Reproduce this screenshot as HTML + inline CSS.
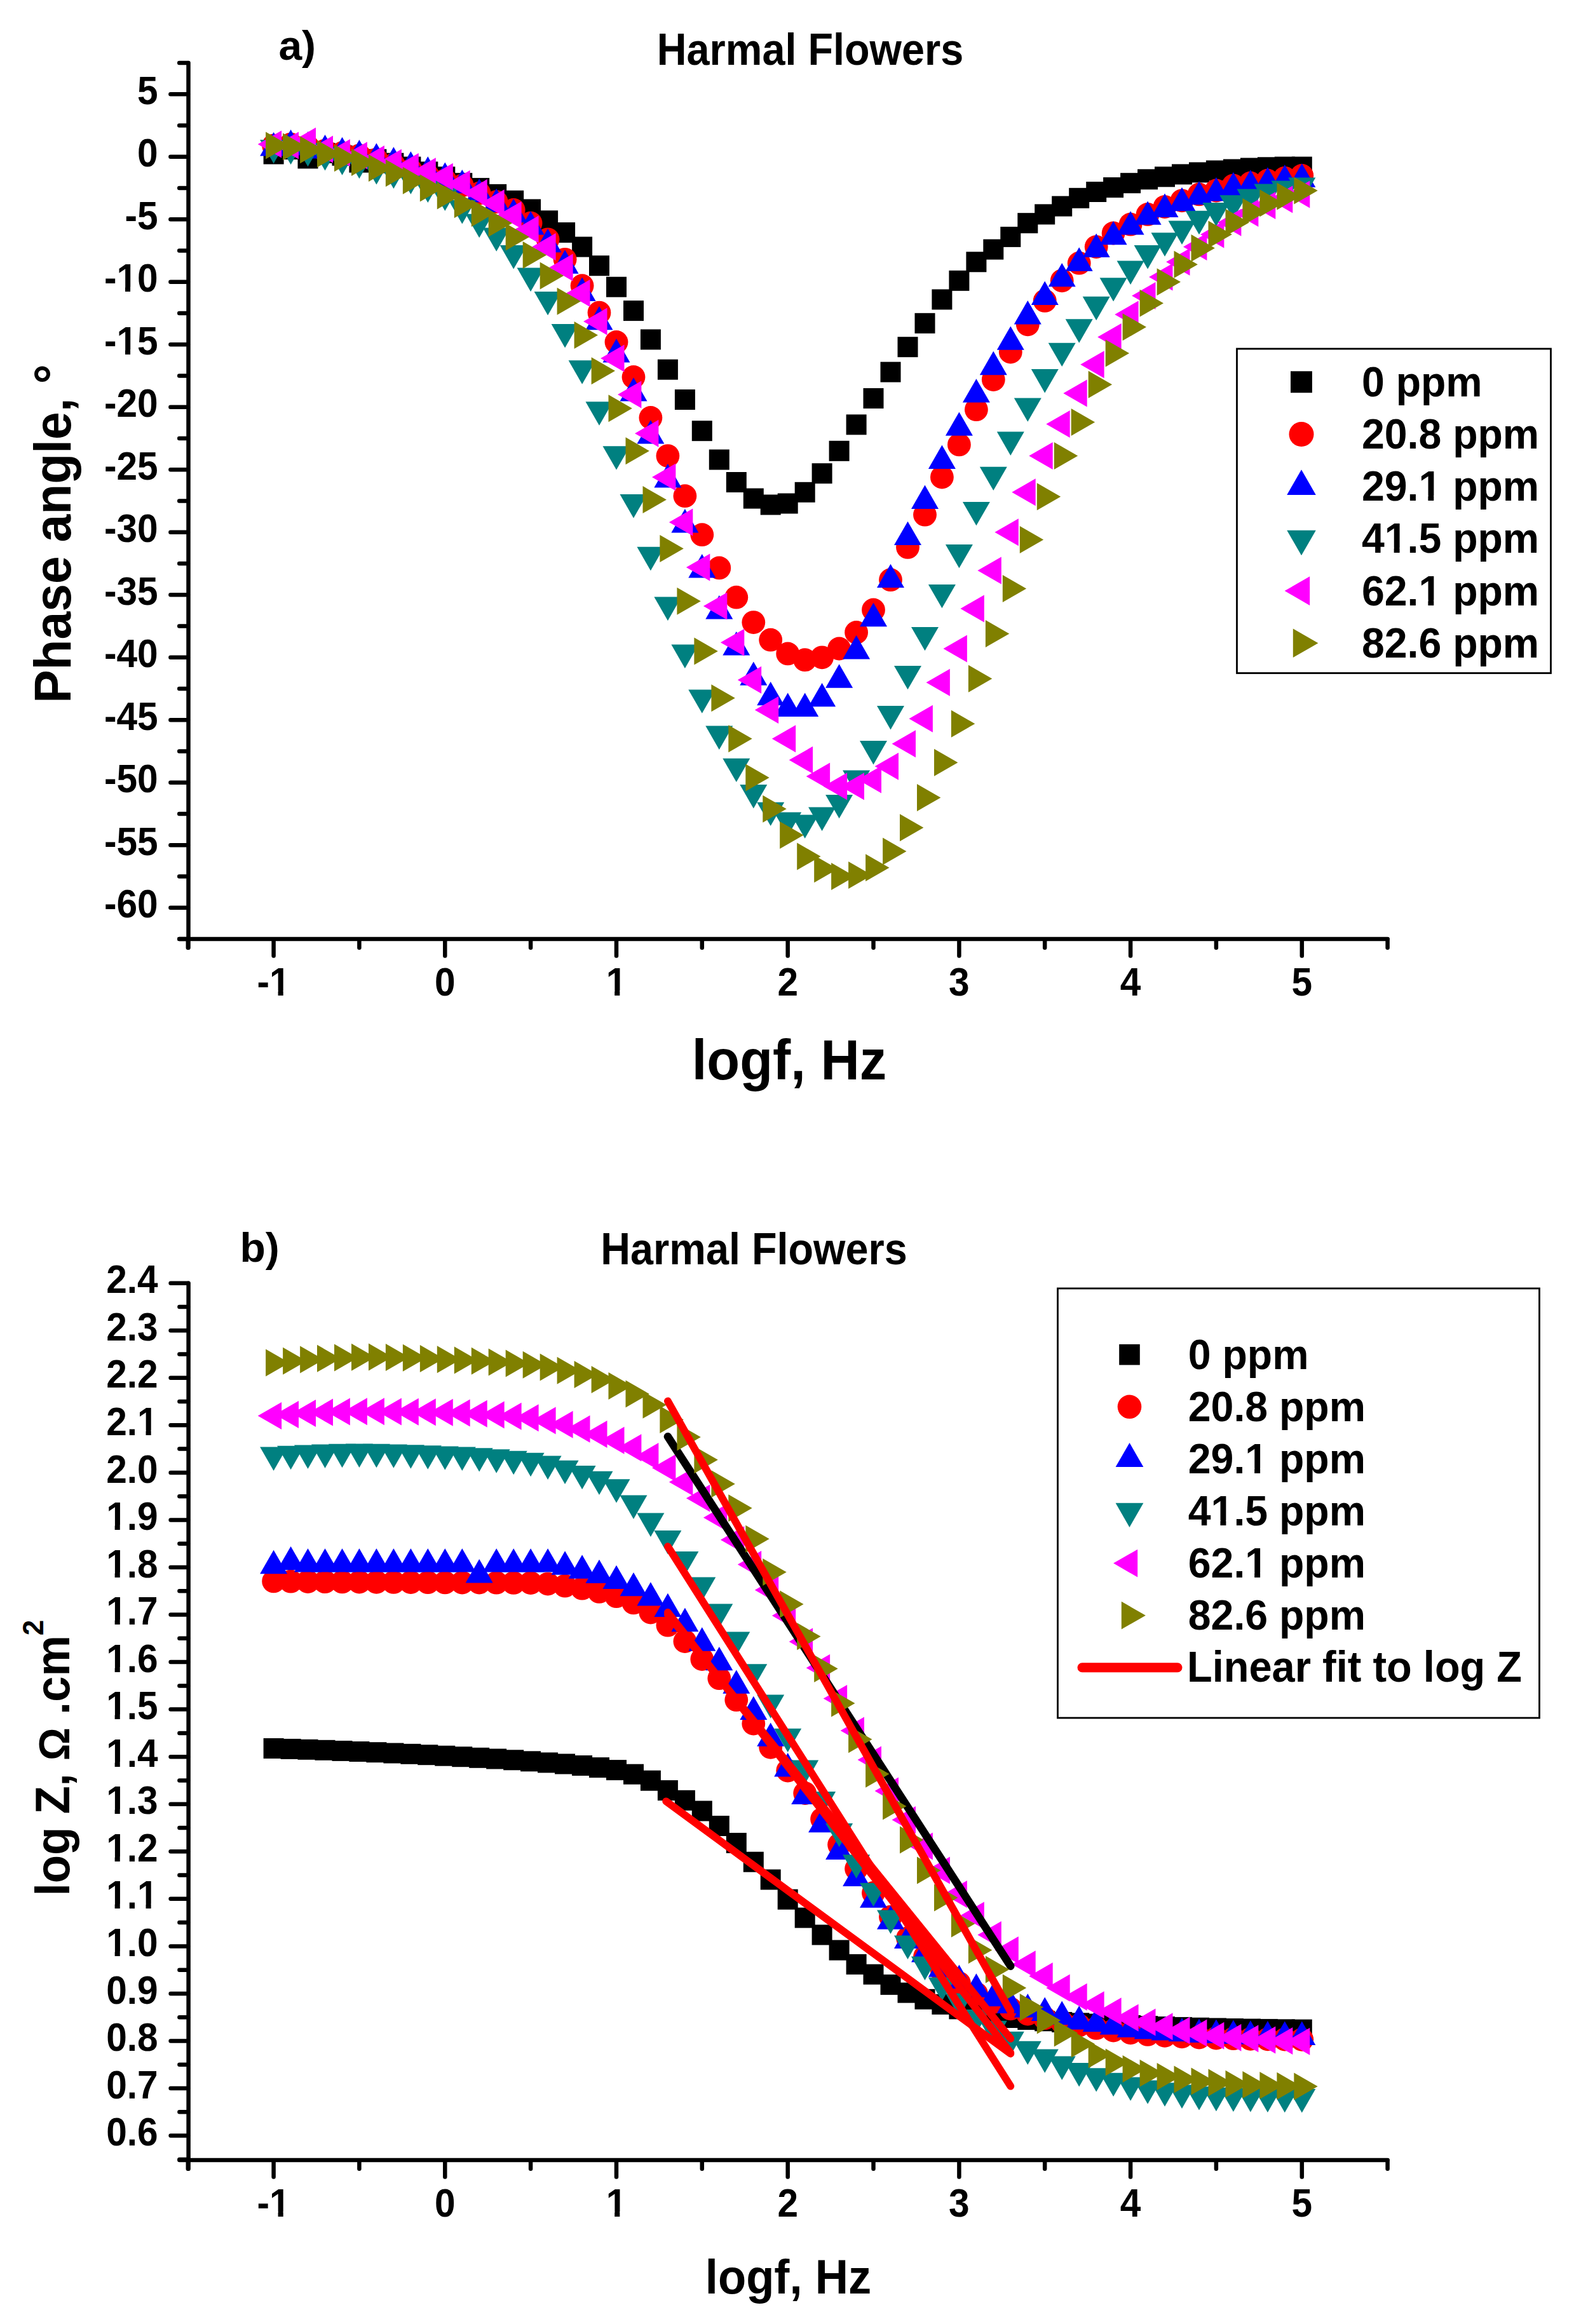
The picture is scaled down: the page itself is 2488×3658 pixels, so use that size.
<!DOCTYPE html>
<html lang="en"><head><meta charset="utf-8"><title>Harmal Flowers - Bode plots</title>
<style>html,body{margin:0;padding:0;background:#fff}svg{display:block}text{font-family:"Liberation Sans", sans-serif;font-weight:bold;fill:#000}</style></head><body>
<svg width="2488" height="3658" viewBox="0 0 2488 3658">
<rect width="2488" height="3658" fill="#fff"/>
<g id="chart-a">
<g stroke="#000" stroke-width="6.5" stroke-linecap="round" fill="none">
<path d="M296.5 99.1 V1491.8"/>
<path d="M282.2 1478 H2183.6"/>
<path d="M268.4 148.3 H295.9"/>
<path d="M268.4 246.8 H295.9"/>
<path d="M268.4 345.3 H295.9"/>
<path d="M268.4 443.8 H295.9"/>
<path d="M268.4 542.3 H295.9"/>
<path d="M268.4 640.8 H295.9"/>
<path d="M268.4 739.3 H295.9"/>
<path d="M268.4 837.8 H295.9"/>
<path d="M268.4 936.3 H295.9"/>
<path d="M268.4 1034.8 H295.9"/>
<path d="M268.4 1133.3 H295.9"/>
<path d="M268.4 1231.8 H295.9"/>
<path d="M268.4 1330.3 H295.9"/>
<path d="M268.4 1428.8 H295.9"/>
<path d="M282.2 99.1 H295.9"/>
<path d="M282.2 197.6 H295.9"/>
<path d="M282.2 296.1 H295.9"/>
<path d="M282.2 394.6 H295.9"/>
<path d="M282.2 493.1 H295.9"/>
<path d="M282.2 591.5 H295.9"/>
<path d="M282.2 690 H295.9"/>
<path d="M282.2 788.5 H295.9"/>
<path d="M282.2 887 H295.9"/>
<path d="M282.2 985.5 H295.9"/>
<path d="M282.2 1084 H295.9"/>
<path d="M282.2 1182.5 H295.9"/>
<path d="M282.2 1281 H295.9"/>
<path d="M282.2 1379.5 H295.9"/>
<path d="M282.2 1478 H295.9"/>
<path d="M430.6 1478.6 V1504.5"/>
<path d="M700.3 1478.6 V1504.5"/>
<path d="M970 1478.6 V1504.5"/>
<path d="M1239.7 1478.6 V1504.5"/>
<path d="M1509.4 1478.6 V1504.5"/>
<path d="M1779.1 1478.6 V1504.5"/>
<path d="M2048.8 1478.6 V1504.5"/>
<path d="M295.8 1478.6 V1491.8"/>
<path d="M565.4 1478.6 V1491.8"/>
<path d="M835.1 1478.6 V1491.8"/>
<path d="M1104.8 1478.6 V1491.8"/>
<path d="M1374.5 1478.6 V1491.8"/>
<path d="M1644.2 1478.6 V1491.8"/>
<path d="M1913.9 1478.6 V1491.8"/>
<path d="M2183.6 1478.6 V1491.8"/>
</g>
<text transform="translate(248.6 163.9) scale(1 1.080)" font-size="58.6" text-anchor="end">5</text>
<text transform="translate(248.6 262.4) scale(1 1.080)" font-size="58.6" text-anchor="end">0</text>
<text transform="translate(248.6 360.9) scale(1 1.080)" font-size="58.6" text-anchor="end">-5</text>
<text transform="translate(248.6 459.4) scale(1 1.080)" font-size="58.6" text-anchor="end">-10</text><g transform="translate(248.6 459.4) scale(1 1.080)" fill="#fff"><rect x="-62.82" y="-7.15" width="11.16" height="7.91"/><rect x="-43.51" y="-7.15" width="10.58" height="7.91"/></g>
<text transform="translate(248.6 557.9) scale(1 1.080)" font-size="58.6" text-anchor="end">-15</text><g transform="translate(248.6 557.9) scale(1 1.080)" fill="#fff"><rect x="-62.82" y="-7.15" width="11.16" height="7.91"/><rect x="-43.51" y="-7.15" width="10.58" height="7.91"/></g>
<text transform="translate(248.6 656.4) scale(1 1.080)" font-size="58.6" text-anchor="end">-20</text>
<text transform="translate(248.6 754.9) scale(1 1.080)" font-size="58.6" text-anchor="end">-25</text>
<text transform="translate(248.6 853.4) scale(1 1.080)" font-size="58.6" text-anchor="end">-30</text>
<text transform="translate(248.6 951.9) scale(1 1.080)" font-size="58.6" text-anchor="end">-35</text>
<text transform="translate(248.6 1050.4) scale(1 1.080)" font-size="58.6" text-anchor="end">-40</text>
<text transform="translate(248.6 1148.9) scale(1 1.080)" font-size="58.6" text-anchor="end">-45</text>
<text transform="translate(248.6 1247.4) scale(1 1.080)" font-size="58.6" text-anchor="end">-50</text>
<text transform="translate(248.6 1345.9) scale(1 1.080)" font-size="58.6" text-anchor="end">-55</text>
<text transform="translate(248.6 1444.4) scale(1 1.080)" font-size="58.6" text-anchor="end">-60</text>
<text transform="translate(430.6 1566.8) scale(1 1.080)" font-size="58.6" text-anchor="middle">-1</text><g transform="translate(430.6 1566.8) scale(1 1.080)" fill="#fff"><rect x="-4.19" y="-7.15" width="11.16" height="7.91"/><rect x="15.12" y="-7.15" width="10.58" height="7.91"/></g>
<text transform="translate(700.3 1566.8) scale(1 1.080)" font-size="58.6" text-anchor="middle">0</text>
<text transform="translate(970 1566.8) scale(1 1.080)" font-size="58.6" text-anchor="middle">1</text><g transform="translate(970 1566.8) scale(1 1.080)" fill="#fff"><rect x="-13.95" y="-7.15" width="11.16" height="7.91"/><rect x="5.36" y="-7.15" width="10.58" height="7.91"/></g>
<text transform="translate(1239.7 1566.8) scale(1 1.080)" font-size="58.6" text-anchor="middle">2</text>
<text transform="translate(1509.4 1566.8) scale(1 1.080)" font-size="58.6" text-anchor="middle">3</text>
<text transform="translate(1779.1 1566.8) scale(1 1.080)" font-size="58.6" text-anchor="middle">4</text>
<text transform="translate(2048.8 1566.8) scale(1 1.080)" font-size="58.6" text-anchor="middle">5</text>
<text transform="translate(438.4 93.8) scale(1 0.975)" font-size="66">a)</text>
<text transform="translate(1275 102) scale(1 1.077)" font-size="64.8" text-anchor="middle">Harmal Flowers</text>
<text transform="translate(111.3 840) rotate(-90) scale(1 1.035)" font-size="78.6" text-anchor="middle">Phase angle, °</text>
<text transform="translate(1242 1698.6) scale(1 1.050)" font-size="84.9" text-anchor="middle">logf, Hz</text>
<g fill="#000000">
<rect x="414.6" y="226.5" width="32" height="32"/>
<rect x="441.6" y="219" width="32" height="32"/>
<rect x="468.5" y="233.4" width="32" height="32"/>
<rect x="495.5" y="224.9" width="32" height="32"/>
<rect x="522.5" y="228.8" width="32" height="32"/>
<rect x="549.4" y="239.7" width="32" height="32"/>
<rect x="576.4" y="234.7" width="32" height="32"/>
<rect x="603.4" y="240.7" width="32" height="32"/>
<rect x="630.4" y="246.6" width="32" height="32"/>
<rect x="657.3" y="254.4" width="32" height="32"/>
<rect x="684.3" y="262.3" width="32" height="32"/>
<rect x="711.3" y="272.2" width="32" height="32"/>
<rect x="738.2" y="280.1" width="32" height="32"/>
<rect x="765.2" y="289.9" width="32" height="32"/>
<rect x="792.2" y="299.8" width="32" height="32"/>
<rect x="819.1" y="313.5" width="32" height="32"/>
<rect x="846.1" y="331.3" width="32" height="32"/>
<rect x="873.1" y="350" width="32" height="32"/>
<rect x="900.1" y="372.6" width="32" height="32"/>
<rect x="927" y="402.2" width="32" height="32"/>
<rect x="954" y="435.7" width="32" height="32"/>
<rect x="981" y="473.1" width="32" height="32"/>
<rect x="1007.9" y="518.4" width="32" height="32"/>
<rect x="1034.9" y="565.7" width="32" height="32"/>
<rect x="1061.9" y="613" width="32" height="32"/>
<rect x="1088.8" y="662.2" width="32" height="32"/>
<rect x="1115.8" y="707.5" width="32" height="32"/>
<rect x="1142.8" y="743" width="32" height="32"/>
<rect x="1169.8" y="768.6" width="32" height="32"/>
<rect x="1196.7" y="778.5" width="32" height="32"/>
<rect x="1223.7" y="776.5" width="32" height="32"/>
<rect x="1250.7" y="758.8" width="32" height="32"/>
<rect x="1277.6" y="729.2" width="32" height="32"/>
<rect x="1304.6" y="693.8" width="32" height="32"/>
<rect x="1331.6" y="652.4" width="32" height="32"/>
<rect x="1358.5" y="611" width="32" height="32"/>
<rect x="1385.5" y="569.6" width="32" height="32"/>
<rect x="1412.5" y="530.2" width="32" height="32"/>
<rect x="1439.5" y="492.8" width="32" height="32"/>
<rect x="1466.4" y="455.4" width="32" height="32"/>
<rect x="1493.4" y="425.8" width="32" height="32"/>
<rect x="1520.4" y="396.3" width="32" height="32"/>
<rect x="1547.3" y="376.6" width="32" height="32"/>
<rect x="1574.3" y="356.9" width="32" height="32"/>
<rect x="1601.3" y="335.2" width="32" height="32"/>
<rect x="1628.2" y="321.4" width="32" height="32"/>
<rect x="1655.2" y="308.6" width="32" height="32"/>
<rect x="1682.2" y="295.8" width="32" height="32"/>
<rect x="1709.2" y="286" width="32" height="32"/>
<rect x="1736.1" y="279.1" width="32" height="32"/>
<rect x="1763.1" y="272.2" width="32" height="32"/>
<rect x="1790.1" y="266.3" width="32" height="32"/>
<rect x="1817" y="262.3" width="32" height="32"/>
<rect x="1844" y="258.4" width="32" height="32"/>
<rect x="1871" y="255.4" width="32" height="32"/>
<rect x="1897.9" y="252.5" width="32" height="32"/>
<rect x="1924.9" y="250.5" width="32" height="32"/>
<rect x="1951.9" y="248.5" width="32" height="32"/>
<rect x="1978.9" y="247.3" width="32" height="32"/>
<rect x="2005.8" y="246.6" width="32" height="32"/>
<rect x="2032.8" y="246.6" width="32" height="32"/>
</g>
<g fill="#ff0000">
<circle cx="430.6" cy="229.1" r="18.4"/>
<circle cx="457.6" cy="227.1" r="18.4"/>
<circle cx="484.5" cy="230.9" r="18.4"/>
<circle cx="511.5" cy="237" r="18.4"/>
<circle cx="538.5" cy="240.7" r="18.4"/>
<circle cx="565.4" cy="244.8" r="18.4"/>
<circle cx="592.4" cy="251.1" r="18.4"/>
<circle cx="619.4" cy="259.2" r="18.4"/>
<circle cx="646.4" cy="267.9" r="18.4"/>
<circle cx="673.3" cy="276.4" r="18.4"/>
<circle cx="700.3" cy="283.8" r="18.4"/>
<circle cx="727.3" cy="292.1" r="18.4"/>
<circle cx="754.2" cy="304.2" r="18.4"/>
<circle cx="781.2" cy="317.7" r="18.4"/>
<circle cx="808.2" cy="330.5" r="18.4"/>
<circle cx="835.1" cy="351.2" r="18.4"/>
<circle cx="862.1" cy="376.8" r="18.4"/>
<circle cx="889.1" cy="408.3" r="18.4"/>
<circle cx="916.1" cy="449.7" r="18.4"/>
<circle cx="943" cy="492.1" r="18.4"/>
<circle cx="970" cy="538.4" r="18.4"/>
<circle cx="997" cy="593.5" r="18.4"/>
<circle cx="1023.9" cy="657.5" r="18.4"/>
<circle cx="1050.9" cy="717.6" r="18.4"/>
<circle cx="1077.9" cy="780.7" r="18.4"/>
<circle cx="1104.8" cy="841.7" r="18.4"/>
<circle cx="1131.8" cy="893.9" r="18.4"/>
<circle cx="1158.8" cy="940.2" r="18.4"/>
<circle cx="1185.8" cy="979.6" r="18.4"/>
<circle cx="1212.7" cy="1007.2" r="18.4"/>
<circle cx="1239.7" cy="1028.9" r="18.4"/>
<circle cx="1266.7" cy="1038.7" r="18.4"/>
<circle cx="1293.6" cy="1034.8" r="18.4"/>
<circle cx="1320.6" cy="1021" r="18.4"/>
<circle cx="1347.6" cy="995.4" r="18.4"/>
<circle cx="1374.5" cy="959.9" r="18.4"/>
<circle cx="1401.5" cy="912.7" r="18.4"/>
<circle cx="1428.5" cy="861.4" r="18.4"/>
<circle cx="1455.5" cy="810.2" r="18.4"/>
<circle cx="1482.4" cy="751.1" r="18.4"/>
<circle cx="1509.4" cy="699.9" r="18.4"/>
<circle cx="1536.4" cy="644.7" r="18.4"/>
<circle cx="1563.3" cy="597.5" r="18.4"/>
<circle cx="1590.3" cy="554.1" r="18.4"/>
<circle cx="1617.3" cy="510.8" r="18.4"/>
<circle cx="1644.2" cy="473.4" r="18.4"/>
<circle cx="1671.2" cy="441.8" r="18.4"/>
<circle cx="1698.2" cy="414.2" r="18.4"/>
<circle cx="1725.2" cy="388.6" r="18.4"/>
<circle cx="1752.1" cy="367" r="18.4"/>
<circle cx="1779.1" cy="353.2" r="18.4"/>
<circle cx="1806.1" cy="337.4" r="18.4"/>
<circle cx="1833" cy="325.6" r="18.4"/>
<circle cx="1860" cy="315.8" r="18.4"/>
<circle cx="1887" cy="305.9" r="18.4"/>
<circle cx="1913.9" cy="300" r="18.4"/>
<circle cx="1940.9" cy="292.1" r="18.4"/>
<circle cx="1967.9" cy="288.2" r="18.4"/>
<circle cx="1994.9" cy="284.2" r="18.4"/>
<circle cx="2021.8" cy="280.3" r="18.4"/>
<circle cx="2048.8" cy="276.4" r="18.4"/>
</g>
<g fill="#0000ff">
<polygon points="430.6,208.1 409.1,245.5 452.1,245.5"/>
<polygon points="457.6,204.1 436.1,241.5 479.1,241.5"/>
<polygon points="484.5,207.1 463,244.5 506,244.5"/>
<polygon points="511.5,212 490,249.4 533,249.4"/>
<polygon points="538.5,215.7 517,253.1 560,253.1"/>
<polygon points="565.4,219.9 543.9,257.3 586.9,257.3"/>
<polygon points="592.4,225.2 570.9,262.6 613.9,262.6"/>
<polygon points="619.4,231.3 597.9,268.7 640.9,268.7"/>
<polygon points="646.4,238.3 624.9,275.7 667.9,275.7"/>
<polygon points="673.3,246.3 651.8,283.7 694.8,283.7"/>
<polygon points="700.3,255.4 678.8,292.8 721.8,292.8"/>
<polygon points="727.3,266.9 705.8,304.3 748.8,304.3"/>
<polygon points="754.2,281.2 732.7,318.6 775.7,318.6"/>
<polygon points="781.2,296.7 759.7,334.1 802.7,334.1"/>
<polygon points="808.2,312.8 786.7,350.2 829.7,350.2"/>
<polygon points="835.1,332.2 813.6,369.6 856.6,369.6"/>
<polygon points="862.1,359.8 840.6,397.2 883.6,397.2"/>
<polygon points="889.1,393.3 867.6,430.7 910.6,430.7"/>
<polygon points="916.1,436.6 894.6,474 937.6,474"/>
<polygon points="943,481.9 921.5,519.3 964.5,519.3"/>
<polygon points="970,533.1 948.5,570.5 991.5,570.5"/>
<polygon points="997,594.2 975.5,631.6 1018.5,631.6"/>
<polygon points="1023.9,661.2 1002.4,698.6 1045.4,698.6"/>
<polygon points="1050.9,730.1 1029.4,767.5 1072.4,767.5"/>
<polygon points="1077.9,801 1056.4,838.4 1099.4,838.4"/>
<polygon points="1104.8,872 1083.3,909.4 1126.3,909.4"/>
<polygon points="1131.8,937 1110.3,974.4 1153.3,974.4"/>
<polygon points="1158.8,994.1 1137.3,1031.5 1180.3,1031.5"/>
<polygon points="1185.8,1041.4 1164.3,1078.8 1207.3,1078.8"/>
<polygon points="1212.7,1072.9 1191.2,1110.3 1234.2,1110.3"/>
<polygon points="1239.7,1090.6 1218.2,1128 1261.2,1128"/>
<polygon points="1266.7,1090.6 1245.2,1128 1288.2,1128"/>
<polygon points="1293.6,1074.9 1272.1,1112.3 1315.1,1112.3"/>
<polygon points="1320.6,1045.3 1299.1,1082.7 1342.1,1082.7"/>
<polygon points="1347.6,1000 1326.1,1037.4 1369.1,1037.4"/>
<polygon points="1374.5,948.8 1353,986.2 1396,986.2"/>
<polygon points="1401.5,887.7 1380,925.1 1423,925.1"/>
<polygon points="1428.5,820.7 1407,858.1 1450,858.1"/>
<polygon points="1455.5,763.6 1434,801 1477,801"/>
<polygon points="1482.4,700.6 1460.9,738 1503.9,738"/>
<polygon points="1509.4,648.4 1487.9,685.8 1530.9,685.8"/>
<polygon points="1536.4,596.2 1514.9,633.6 1557.9,633.6"/>
<polygon points="1563.3,552.8 1541.8,590.2 1584.8,590.2"/>
<polygon points="1590.3,513.4 1568.8,550.8 1611.8,550.8"/>
<polygon points="1617.3,473 1595.8,510.4 1638.8,510.4"/>
<polygon points="1644.2,442.5 1622.8,479.9 1665.8,479.9"/>
<polygon points="1671.2,413.9 1649.7,451.3 1692.7,451.3"/>
<polygon points="1698.2,389.3 1676.7,426.7 1719.7,426.7"/>
<polygon points="1725.2,367.6 1703.7,405 1746.7,405"/>
<polygon points="1752.1,347.9 1730.6,385.3 1773.6,385.3"/>
<polygon points="1779.1,332.2 1757.6,369.6 1800.6,369.6"/>
<polygon points="1806.1,316.4 1784.6,353.8 1827.6,353.8"/>
<polygon points="1833,304.6 1811.5,342 1854.5,342"/>
<polygon points="1860,294.8 1838.5,332.2 1881.5,332.2"/>
<polygon points="1887,284.9 1865.5,322.3 1908.5,322.3"/>
<polygon points="1913.9,279 1892.4,316.4 1935.4,316.4"/>
<polygon points="1940.9,271.1 1919.4,308.5 1962.4,308.5"/>
<polygon points="1967.9,267.2 1946.4,304.6 1989.4,304.6"/>
<polygon points="1994.9,263.2 1973.4,300.6 2016.4,300.6"/>
<polygon points="2021.8,259.3 2000.3,296.7 2043.3,296.7"/>
<polygon points="2048.8,257.3 2027.3,294.7 2070.3,294.7"/>
</g>
<g fill="#008080">
<polygon points="430.6,257.4 409.1,220 452.1,220"/>
<polygon points="457.6,259.1 436.1,221.7 479.1,221.7"/>
<polygon points="484.5,262.3 463,224.9 506,224.9"/>
<polygon points="511.5,268.6 490,231.2 533,231.2"/>
<polygon points="538.5,275.7 517,238.3 560,238.3"/>
<polygon points="565.4,281.2 543.9,243.8 586.9,243.8"/>
<polygon points="592.4,290.6 570.9,253.2 613.9,253.2"/>
<polygon points="619.4,296.9 597.9,259.5 640.9,259.5"/>
<polygon points="646.4,305.8 624.9,268.4 667.9,268.4"/>
<polygon points="673.3,319 651.8,281.6 694.8,281.6"/>
<polygon points="700.3,332 678.8,294.6 721.8,294.6"/>
<polygon points="727.3,352.5 705.8,315.1 748.8,315.1"/>
<polygon points="754.2,374.2 732.7,336.8 775.7,336.8"/>
<polygon points="781.2,395.8 759.7,358.4 802.7,358.4"/>
<polygon points="808.2,423.4 786.7,386 829.7,386"/>
<polygon points="835.1,458.9 813.6,421.5 856.6,421.5"/>
<polygon points="862.1,496.3 840.6,458.9 883.6,458.9"/>
<polygon points="889.1,547.5 867.6,510.1 910.6,510.1"/>
<polygon points="916.1,604.7 894.6,567.3 937.6,567.3"/>
<polygon points="943,669.7 921.5,632.3 964.5,632.3"/>
<polygon points="970,739.6 948.5,702.2 991.5,702.2"/>
<polygon points="997,815.5 975.5,778.1 1018.5,778.1"/>
<polygon points="1023.9,898.2 1002.4,860.8 1045.4,860.8"/>
<polygon points="1050.9,977 1029.4,939.6 1072.4,939.6"/>
<polygon points="1077.9,1051.9 1056.4,1014.5 1099.4,1014.5"/>
<polygon points="1104.8,1122.8 1083.3,1085.4 1126.3,1085.4"/>
<polygon points="1131.8,1179.9 1110.3,1142.5 1153.3,1142.5"/>
<polygon points="1158.8,1231.1 1137.3,1193.7 1180.3,1193.7"/>
<polygon points="1185.8,1272.5 1164.3,1235.1 1207.3,1235.1"/>
<polygon points="1212.7,1300.1 1191.2,1262.7 1234.2,1262.7"/>
<polygon points="1239.7,1315.8 1218.2,1278.4 1261.2,1278.4"/>
<polygon points="1266.7,1319.8 1245.2,1282.4 1288.2,1282.4"/>
<polygon points="1293.6,1308 1272.1,1270.6 1315.1,1270.6"/>
<polygon points="1320.6,1288.3 1299.1,1250.9 1342.1,1250.9"/>
<polygon points="1347.6,1249.8 1326.1,1212.4 1369.1,1212.4"/>
<polygon points="1374.5,1203.5 1353,1166.1 1396,1166.1"/>
<polygon points="1401.5,1148.4 1380,1111 1423,1111"/>
<polygon points="1428.5,1085.3 1407,1047.9 1450,1047.9"/>
<polygon points="1455.5,1024.3 1434,986.9 1477,986.9"/>
<polygon points="1482.4,957.3 1460.9,919.9 1503.9,919.9"/>
<polygon points="1509.4,894.3 1487.9,856.9 1530.9,856.9"/>
<polygon points="1536.4,827.3 1514.9,789.9 1557.9,789.9"/>
<polygon points="1563.3,772.1 1541.8,734.7 1584.8,734.7"/>
<polygon points="1590.3,717 1568.8,679.6 1611.8,679.6"/>
<polygon points="1617.3,663.8 1595.8,626.4 1638.8,626.4"/>
<polygon points="1644.2,618.5 1622.8,581.1 1665.8,581.1"/>
<polygon points="1671.2,577.1 1649.7,539.7 1692.7,539.7"/>
<polygon points="1698.2,539.7 1676.7,502.3 1719.7,502.3"/>
<polygon points="1725.2,504.2 1703.7,466.8 1746.7,466.8"/>
<polygon points="1752.1,474.6 1730.6,437.2 1773.6,437.2"/>
<polygon points="1779.1,448 1757.6,410.6 1800.6,410.6"/>
<polygon points="1806.1,423.4 1784.6,386 1827.6,386"/>
<polygon points="1833,403.7 1811.5,366.3 1854.5,366.3"/>
<polygon points="1860,385 1838.5,347.6 1881.5,347.6"/>
<polygon points="1887,369.2 1865.5,331.8 1908.5,331.8"/>
<polygon points="1913.9,356.4 1892.4,319 1935.4,319"/>
<polygon points="1940.9,344.6 1919.4,307.2 1962.4,307.2"/>
<polygon points="1967.9,334.8 1946.4,297.4 1989.4,297.4"/>
<polygon points="1994.9,326.9 1973.4,289.5 2016.4,289.5"/>
<polygon points="2021.8,322 2000.3,284.6 2043.3,284.6"/>
<polygon points="2048.8,317 2027.3,279.6 2070.3,279.6"/>
</g>
<g fill="#ff00ff">
<polygon points="405.7,227.1 443.1,205.6 443.1,248.6"/>
<polygon points="432.6,229.1 470,207.6 470,250.6"/>
<polygon points="459.6,222.2 497,200.7 497,243.7"/>
<polygon points="486.6,235 524,213.5 524,256.5"/>
<polygon points="513.5,240.4 550.9,218.9 550.9,261.9"/>
<polygon points="540.5,244.8 577.9,223.3 577.9,266.3"/>
<polygon points="567.5,250.4 604.9,228.9 604.9,271.9"/>
<polygon points="594.5,256.2 631.9,234.7 631.9,277.7"/>
<polygon points="621.4,262.5 658.8,241 658.8,284"/>
<polygon points="648.4,269.8 685.8,248.3 685.8,291.3"/>
<polygon points="675.4,278.3 712.8,256.8 712.8,299.8"/>
<polygon points="702.3,289.4 739.7,267.9 739.7,310.9"/>
<polygon points="729.3,303.6 766.7,282.1 766.7,325.1"/>
<polygon points="756.3,319.7 793.7,298.2 793.7,341.2"/>
<polygon points="783.2,338.6 820.6,317.1 820.6,360.1"/>
<polygon points="810.2,361.1 847.6,339.6 847.6,382.6"/>
<polygon points="837.2,388.6 874.6,367.1 874.6,410.1"/>
<polygon points="864.2,421.1 901.6,399.6 901.6,442.6"/>
<polygon points="891.1,461.5 928.5,440 928.5,483"/>
<polygon points="918.1,505.9 955.5,484.4 955.5,527.4"/>
<polygon points="945.1,564 982.5,542.5 982.5,585.5"/>
<polygon points="972,621.1 1009.4,599.6 1009.4,642.6"/>
<polygon points="999,682.2 1036.4,660.7 1036.4,703.7"/>
<polygon points="1026,751.1 1063.4,729.6 1063.4,772.6"/>
<polygon points="1052.9,822 1090.3,800.5 1090.3,843.5"/>
<polygon points="1079.9,893 1117.3,871.5 1117.3,914.5"/>
<polygon points="1106.9,954 1144.3,932.5 1144.3,975.5"/>
<polygon points="1133.9,1011.2 1171.3,989.7 1171.3,1032.7"/>
<polygon points="1160.8,1070.3 1198.2,1048.8 1198.2,1091.8"/>
<polygon points="1187.8,1117.5 1225.2,1096 1225.2,1139"/>
<polygon points="1214.8,1162.8 1252.2,1141.3 1252.2,1184.3"/>
<polygon points="1241.7,1196.3 1279.1,1174.8 1279.1,1217.8"/>
<polygon points="1268.7,1222 1306.1,1200.5 1306.1,1243.5"/>
<polygon points="1295.7,1237.7 1333.1,1216.2 1333.1,1259.2"/>
<polygon points="1322.6,1237.7 1360,1216.2 1360,1259.2"/>
<polygon points="1349.6,1226.9 1387,1205.4 1387,1248.4"/>
<polygon points="1376.6,1206.2 1414,1184.7 1414,1227.7"/>
<polygon points="1403.6,1170.7 1441,1149.2 1441,1192.2"/>
<polygon points="1430.5,1131.3 1467.9,1109.8 1467.9,1152.8"/>
<polygon points="1457.5,1074.2 1494.9,1052.7 1494.9,1095.7"/>
<polygon points="1484.5,1021 1521.9,999.5 1521.9,1042.5"/>
<polygon points="1511.4,958 1548.8,936.5 1548.8,979.5"/>
<polygon points="1538.4,897.9 1575.8,876.4 1575.8,919.4"/>
<polygon points="1565.4,837.8 1602.8,816.3 1602.8,859.3"/>
<polygon points="1592.3,774.8 1629.7,753.3 1629.7,796.3"/>
<polygon points="1619.3,717.6 1656.7,696.1 1656.7,739.1"/>
<polygon points="1646.3,667.4 1683.7,645.9 1683.7,688.9"/>
<polygon points="1673.3,619.1 1710.7,597.6 1710.7,640.6"/>
<polygon points="1700.2,573.8 1737.6,552.3 1737.6,595.3"/>
<polygon points="1727.2,530.5 1764.6,509 1764.6,552"/>
<polygon points="1754.2,495 1791.6,473.5 1791.6,516.5"/>
<polygon points="1781.1,465.5 1818.5,444 1818.5,487"/>
<polygon points="1808.1,435.9 1845.5,414.4 1845.5,457.4"/>
<polygon points="1835.1,412.3 1872.5,390.8 1872.5,433.8"/>
<polygon points="1862,388.6 1899.4,367.1 1899.4,410.1"/>
<polygon points="1889,368.9 1926.4,347.4 1926.4,390.4"/>
<polygon points="1916,350.2 1953.4,328.7 1953.4,371.7"/>
<polygon points="1943,335.4 1980.4,313.9 1980.4,356.9"/>
<polygon points="1969.9,323.6 2007.3,302.1 2007.3,345.1"/>
<polygon points="1996.9,313.8 2034.3,292.3 2034.3,335.3"/>
<polygon points="2023.9,305.9 2061.3,284.4 2061.3,327.4"/>
</g>
<g fill="#808000">
<polygon points="455.5,229.1 418.1,207.6 418.1,250.6"/>
<polygon points="482.5,231 445.1,209.5 445.1,252.5"/>
<polygon points="509.5,235.8 472.1,214.3 472.1,257.3"/>
<polygon points="536.4,242.1 499,220.6 499,263.6"/>
<polygon points="563.4,248.8 526,227.3 526,270.3"/>
<polygon points="590.4,255.5 553,234 553,277"/>
<polygon points="617.4,264.5 580,243 580,286"/>
<polygon points="644.3,272.4 606.9,250.9 606.9,293.9"/>
<polygon points="671.3,284.2 633.9,262.7 633.9,305.7"/>
<polygon points="698.3,296.1 660.9,274.6 660.9,317.6"/>
<polygon points="725.2,307.9 687.8,286.4 687.8,329.4"/>
<polygon points="752.2,321.7 714.8,300.2 714.8,343.2"/>
<polygon points="779.2,335.4 741.8,313.9 741.8,356.9"/>
<polygon points="806.1,351.2 768.7,329.7 768.7,372.7"/>
<polygon points="833.1,372.9 795.7,351.4 795.7,394.4"/>
<polygon points="860.1,401.4 822.7,379.9 822.7,422.9"/>
<polygon points="887.1,434 849.7,412.5 849.7,455.5"/>
<polygon points="914,474.3 876.6,452.8 876.6,495.8"/>
<polygon points="941,527.5 903.6,506 903.6,549"/>
<polygon points="968,583.7 930.6,562.2 930.6,605.2"/>
<polygon points="994.9,642.8 957.5,621.3 957.5,664.3"/>
<polygon points="1021.9,709.8 984.5,688.2 984.5,731.2"/>
<polygon points="1048.9,786.6 1011.5,765.1 1011.5,808.1"/>
<polygon points="1075.8,863.4 1038.4,841.9 1038.4,884.9"/>
<polygon points="1102.8,946.2 1065.4,924.7 1065.4,967.7"/>
<polygon points="1129.8,1025 1092.4,1003.5 1092.4,1046.5"/>
<polygon points="1156.8,1098.8 1119.4,1077.3 1119.4,1120.3"/>
<polygon points="1183.7,1162.8 1146.3,1141.3 1146.3,1184.3"/>
<polygon points="1210.7,1223.9 1173.3,1202.4 1173.3,1245.4"/>
<polygon points="1237.7,1273.2 1200.3,1251.7 1200.3,1294.7"/>
<polygon points="1264.6,1314.5 1227.2,1293 1227.2,1336"/>
<polygon points="1291.6,1348 1254.2,1326.5 1254.2,1369.5"/>
<polygon points="1318.6,1367.7 1281.2,1346.2 1281.2,1389.2"/>
<polygon points="1345.5,1379.5 1308.1,1358 1308.1,1401"/>
<polygon points="1372.5,1377.6 1335.1,1356.1 1335.1,1399.1"/>
<polygon points="1399.5,1365.8 1362.1,1344.3 1362.1,1387.3"/>
<polygon points="1426.5,1340.1 1389.1,1318.6 1389.1,1361.6"/>
<polygon points="1453.4,1302.7 1416,1281.2 1416,1324.2"/>
<polygon points="1480.4,1255.4 1443,1233.9 1443,1276.9"/>
<polygon points="1507.4,1200.3 1470,1178.8 1470,1221.8"/>
<polygon points="1534.3,1139.2 1496.9,1117.7 1496.9,1160.7"/>
<polygon points="1561.3,1068.3 1523.9,1046.8 1523.9,1089.8"/>
<polygon points="1588.3,997.4 1550.9,975.9 1550.9,1018.9"/>
<polygon points="1615.2,926.5 1577.8,905 1577.8,948"/>
<polygon points="1642.2,849.6 1604.8,828.1 1604.8,871.1"/>
<polygon points="1669.2,781.7 1631.8,760.2 1631.8,803.2"/>
<polygon points="1696.2,717.6 1658.8,696.1 1658.8,739.1"/>
<polygon points="1723.1,664.4 1685.7,642.9 1685.7,685.9"/>
<polygon points="1750.1,605.3 1712.7,583.8 1712.7,626.8"/>
<polygon points="1777.1,556.1 1739.7,534.6 1739.7,577.6"/>
<polygon points="1804,514.7 1766.6,493.2 1766.6,536.2"/>
<polygon points="1831,477.3 1793.6,455.8 1793.6,498.8"/>
<polygon points="1858,443.8 1820.6,422.3 1820.6,465.3"/>
<polygon points="1884.9,416.2 1847.5,394.7 1847.5,437.7"/>
<polygon points="1911.9,390.6 1874.5,369.1 1874.5,412.1"/>
<polygon points="1938.9,368.9 1901.5,347.4 1901.5,390.4"/>
<polygon points="1965.9,350.2 1928.5,328.7 1928.5,371.7"/>
<polygon points="1992.8,333.5 1955.4,312 1955.4,355"/>
<polygon points="2019.8,319.7 1982.4,298.2 1982.4,341.2"/>
<polygon points="2046.8,308.9 2009.4,287.4 2009.4,330.4"/>
<polygon points="2073.7,300 2036.3,278.5 2036.3,321.5"/>
</g>
<rect x="1946.5" y="549" width="494" height="510.5" fill="#fff" stroke="#000" stroke-width="2.8"/>
<g fill="#000000"><rect x="2031" y="584.3" width="33.9" height="33.9"/></g>
<text transform="translate(2143 623.8) scale(1 1.040)" font-size="64.4">0 ppm</text>
<g fill="#ff0000"><circle cx="2048" cy="683.5" r="19.5"/></g>
<text transform="translate(2143 706) scale(1 1.040)" font-size="64.4">20.8 ppm</text>
<g fill="#0000ff"><polygon points="2048,739.3 2025.2,778.9 2070.8,778.9"/></g>
<text transform="translate(2143 788.2) scale(1 1.040)" font-size="64.4">29.1 ppm</text><g transform="translate(2143 788.2) scale(1 1.040)" fill="#fff"><rect x="92.09" y="-7.86" width="12.27" height="8.69"/><rect x="113.31" y="-7.86" width="11.62" height="8.69"/></g>
<g fill="#008080"><polygon points="2048,874.3 2025.2,834.7 2070.8,834.7"/></g>
<text transform="translate(2143 870.4) scale(1 1.040)" font-size="64.4">41.5 ppm</text><g transform="translate(2143 870.4) scale(1 1.040)" fill="#fff"><rect x="38.38" y="-7.86" width="12.27" height="8.69"/><rect x="59.60" y="-7.86" width="11.62" height="8.69"/></g>
<g fill="#ff00ff"><polygon points="2021.6,930.1 2061.2,907.3 2061.2,952.9"/></g>
<text transform="translate(2143 952.6) scale(1 1.040)" font-size="64.4">62.1 ppm</text><g transform="translate(2143 952.6) scale(1 1.040)" fill="#fff"><rect x="92.09" y="-7.86" width="12.27" height="8.69"/><rect x="113.31" y="-7.86" width="11.62" height="8.69"/></g>
<g fill="#808000"><polygon points="2074.4,1012.3 2034.8,989.5 2034.8,1035.1"/></g>
<text transform="translate(2143 1034.8) scale(1 1.040)" font-size="64.4">82.6 ppm</text>
</g>
<g id="chart-b">
<g stroke="#000" stroke-width="6.5" stroke-linecap="round" fill="none">
<path d="M296.6 2019.7 V3413.8"/>
<path d="M282.4 3400 H2183.6"/>
<path d="M268.6 3361.6 H296"/>
<path d="M268.6 3287 H296"/>
<path d="M268.6 3212.5 H296"/>
<path d="M268.6 3137.9 H296"/>
<path d="M268.6 3063.4 H296"/>
<path d="M268.6 2988.8 H296"/>
<path d="M268.6 2914.3 H296"/>
<path d="M268.6 2839.8 H296"/>
<path d="M268.6 2765.2 H296"/>
<path d="M268.6 2690.6 H296"/>
<path d="M268.6 2616.1 H296"/>
<path d="M268.6 2541.5 H296"/>
<path d="M268.6 2467 H296"/>
<path d="M268.6 2392.4 H296"/>
<path d="M268.6 2317.9 H296"/>
<path d="M268.6 2243.3 H296"/>
<path d="M268.6 2168.8 H296"/>
<path d="M268.6 2094.2 H296"/>
<path d="M268.6 2019.7 H296"/>
<path d="M282.4 3398.9 H296"/>
<path d="M282.4 3324.3 H296"/>
<path d="M282.4 3249.8 H296"/>
<path d="M282.4 3175.2 H296"/>
<path d="M282.4 3100.7 H296"/>
<path d="M282.4 3026.1 H296"/>
<path d="M282.4 2951.6 H296"/>
<path d="M282.4 2877 H296"/>
<path d="M282.4 2802.5 H296"/>
<path d="M282.4 2727.9 H296"/>
<path d="M282.4 2653.4 H296"/>
<path d="M282.4 2578.8 H296"/>
<path d="M282.4 2504.3 H296"/>
<path d="M282.4 2429.7 H296"/>
<path d="M282.4 2355.2 H296"/>
<path d="M282.4 2280.6 H296"/>
<path d="M282.4 2206.1 H296"/>
<path d="M282.4 2131.5 H296"/>
<path d="M282.4 2057 H296"/>
<path d="M430.6 3400.6 V3426.6"/>
<path d="M700.3 3400.6 V3426.6"/>
<path d="M970 3400.6 V3426.6"/>
<path d="M1239.7 3400.6 V3426.6"/>
<path d="M1509.4 3400.6 V3426.6"/>
<path d="M1779.1 3400.6 V3426.6"/>
<path d="M2048.8 3400.6 V3426.6"/>
<path d="M295.8 3400.6 V3413.8"/>
<path d="M565.4 3400.6 V3413.8"/>
<path d="M835.1 3400.6 V3413.8"/>
<path d="M1104.8 3400.6 V3413.8"/>
<path d="M1374.5 3400.6 V3413.8"/>
<path d="M1644.2 3400.6 V3413.8"/>
<path d="M1913.9 3400.6 V3413.8"/>
<path d="M2183.6 3400.6 V3413.8"/>
</g>
<text transform="translate(248.6 3377.2) scale(1 1.080)" font-size="58.6" text-anchor="end">0.6</text>
<text transform="translate(248.6 3302.6) scale(1 1.080)" font-size="58.6" text-anchor="end">0.7</text>
<text transform="translate(248.6 3228.1) scale(1 1.080)" font-size="58.6" text-anchor="end">0.8</text>
<text transform="translate(248.6 3153.5) scale(1 1.080)" font-size="58.6" text-anchor="end">0.9</text>
<text transform="translate(248.6 3079) scale(1 1.080)" font-size="58.6" text-anchor="end">1.0</text><g transform="translate(248.6 3079) scale(1 1.080)" fill="#fff"><rect x="-79.11" y="-7.15" width="11.16" height="7.91"/><rect x="-59.80" y="-7.15" width="10.58" height="7.91"/></g>
<text transform="translate(248.6 3004.4) scale(1 1.080)" font-size="58.6" text-anchor="end">1.1</text><g transform="translate(248.6 3004.4) scale(1 1.080)" fill="#fff"><rect x="-79.11" y="-7.15" width="11.16" height="7.91"/><rect x="-59.80" y="-7.15" width="10.58" height="7.91"/><rect x="-30.24" y="-7.15" width="11.16" height="7.91"/><rect x="-10.93" y="-7.15" width="10.58" height="7.91"/></g>
<text transform="translate(248.6 2929.9) scale(1 1.080)" font-size="58.6" text-anchor="end">1.2</text><g transform="translate(248.6 2929.9) scale(1 1.080)" fill="#fff"><rect x="-79.11" y="-7.15" width="11.16" height="7.91"/><rect x="-59.80" y="-7.15" width="10.58" height="7.91"/></g>
<text transform="translate(248.6 2855.3) scale(1 1.080)" font-size="58.6" text-anchor="end">1.3</text><g transform="translate(248.6 2855.3) scale(1 1.080)" fill="#fff"><rect x="-79.11" y="-7.15" width="11.16" height="7.91"/><rect x="-59.80" y="-7.15" width="10.58" height="7.91"/></g>
<text transform="translate(248.6 2780.8) scale(1 1.080)" font-size="58.6" text-anchor="end">1.4</text><g transform="translate(248.6 2780.8) scale(1 1.080)" fill="#fff"><rect x="-79.11" y="-7.15" width="11.16" height="7.91"/><rect x="-59.80" y="-7.15" width="10.58" height="7.91"/></g>
<text transform="translate(248.6 2706.2) scale(1 1.080)" font-size="58.6" text-anchor="end">1.5</text><g transform="translate(248.6 2706.2) scale(1 1.080)" fill="#fff"><rect x="-79.11" y="-7.15" width="11.16" height="7.91"/><rect x="-59.80" y="-7.15" width="10.58" height="7.91"/></g>
<text transform="translate(248.6 2631.7) scale(1 1.080)" font-size="58.6" text-anchor="end">1.6</text><g transform="translate(248.6 2631.7) scale(1 1.080)" fill="#fff"><rect x="-79.11" y="-7.15" width="11.16" height="7.91"/><rect x="-59.80" y="-7.15" width="10.58" height="7.91"/></g>
<text transform="translate(248.6 2557.1) scale(1 1.080)" font-size="58.6" text-anchor="end">1.7</text><g transform="translate(248.6 2557.1) scale(1 1.080)" fill="#fff"><rect x="-79.11" y="-7.15" width="11.16" height="7.91"/><rect x="-59.80" y="-7.15" width="10.58" height="7.91"/></g>
<text transform="translate(248.6 2482.6) scale(1 1.080)" font-size="58.6" text-anchor="end">1.8</text><g transform="translate(248.6 2482.6) scale(1 1.080)" fill="#fff"><rect x="-79.11" y="-7.15" width="11.16" height="7.91"/><rect x="-59.80" y="-7.15" width="10.58" height="7.91"/></g>
<text transform="translate(248.6 2408) scale(1 1.080)" font-size="58.6" text-anchor="end">1.9</text><g transform="translate(248.6 2408) scale(1 1.080)" fill="#fff"><rect x="-79.11" y="-7.15" width="11.16" height="7.91"/><rect x="-59.80" y="-7.15" width="10.58" height="7.91"/></g>
<text transform="translate(248.6 2333.5) scale(1 1.080)" font-size="58.6" text-anchor="end">2.0</text>
<text transform="translate(248.6 2258.9) scale(1 1.080)" font-size="58.6" text-anchor="end">2.1</text><g transform="translate(248.6 2258.9) scale(1 1.080)" fill="#fff"><rect x="-30.24" y="-7.15" width="11.16" height="7.91"/><rect x="-10.93" y="-7.15" width="10.58" height="7.91"/></g>
<text transform="translate(248.6 2184.4) scale(1 1.080)" font-size="58.6" text-anchor="end">2.2</text>
<text transform="translate(248.6 2109.8) scale(1 1.080)" font-size="58.6" text-anchor="end">2.3</text>
<text transform="translate(248.6 2035.3) scale(1 1.080)" font-size="58.6" text-anchor="end">2.4</text>
<text transform="translate(430.6 3488.8) scale(1 1.080)" font-size="58.6" text-anchor="middle">-1</text><g transform="translate(430.6 3488.8) scale(1 1.080)" fill="#fff"><rect x="-4.19" y="-7.15" width="11.16" height="7.91"/><rect x="15.12" y="-7.15" width="10.58" height="7.91"/></g>
<text transform="translate(700.3 3488.8) scale(1 1.080)" font-size="58.6" text-anchor="middle">0</text>
<text transform="translate(970 3488.8) scale(1 1.080)" font-size="58.6" text-anchor="middle">1</text><g transform="translate(970 3488.8) scale(1 1.080)" fill="#fff"><rect x="-13.95" y="-7.15" width="11.16" height="7.91"/><rect x="5.36" y="-7.15" width="10.58" height="7.91"/></g>
<text transform="translate(1239.7 3488.8) scale(1 1.080)" font-size="58.6" text-anchor="middle">2</text>
<text transform="translate(1509.4 3488.8) scale(1 1.080)" font-size="58.6" text-anchor="middle">3</text>
<text transform="translate(1779.1 3488.8) scale(1 1.080)" font-size="58.6" text-anchor="middle">4</text>
<text transform="translate(2048.8 3488.8) scale(1 1.080)" font-size="58.6" text-anchor="middle">5</text>
<text transform="translate(377.4 1986.3) scale(1 0.975)" font-size="66">b)</text>
<text transform="translate(1186.5 1990) scale(1 1.077)" font-size="64.8" text-anchor="middle">Harmal Flowers</text>
<text transform="translate(109 2767) rotate(-90) scale(1 1.058)" font-size="72.4" text-anchor="middle">log Z, <tspan font-size="65">Ω</tspan> .cm<tspan font-size="44" dy="-39">2</tspan></text>
<text transform="translate(1240.5 3609.7) scale(1 1.048)" font-size="72.4" text-anchor="middle">logf, Hz</text>
<g fill="#000000">
<rect x="414.6" y="2736" width="32" height="32"/>
<rect x="441.6" y="2736.9" width="32" height="32"/>
<rect x="468.5" y="2737.8" width="32" height="32"/>
<rect x="495.5" y="2738.8" width="32" height="32"/>
<rect x="522.5" y="2739.9" width="32" height="32"/>
<rect x="549.4" y="2741" width="32" height="32"/>
<rect x="576.4" y="2742.2" width="32" height="32"/>
<rect x="603.4" y="2743.5" width="32" height="32"/>
<rect x="630.4" y="2744.8" width="32" height="32"/>
<rect x="657.3" y="2746.2" width="32" height="32"/>
<rect x="684.3" y="2747.7" width="32" height="32"/>
<rect x="711.3" y="2749.2" width="32" height="32"/>
<rect x="738.2" y="2750.8" width="32" height="32"/>
<rect x="765.2" y="2752.5" width="32" height="32"/>
<rect x="792.2" y="2754.3" width="32" height="32"/>
<rect x="819.1" y="2756.3" width="32" height="32"/>
<rect x="846.1" y="2758.4" width="32" height="32"/>
<rect x="873.1" y="2760.5" width="32" height="32"/>
<rect x="900.1" y="2763" width="32" height="32"/>
<rect x="927" y="2766.1" width="32" height="32"/>
<rect x="954" y="2770.1" width="32" height="32"/>
<rect x="981" y="2776.7" width="32" height="32"/>
<rect x="1007.9" y="2786.7" width="32" height="32"/>
<rect x="1034.9" y="2802.1" width="32" height="32"/>
<rect x="1061.9" y="2817.8" width="32" height="32"/>
<rect x="1088.8" y="2834.5" width="32" height="32"/>
<rect x="1115.8" y="2858" width="32" height="32"/>
<rect x="1142.8" y="2884.9" width="32" height="32"/>
<rect x="1169.8" y="2914.7" width="32" height="32"/>
<rect x="1196.7" y="2942.5" width="32" height="32"/>
<rect x="1223.7" y="2973.7" width="32" height="32"/>
<rect x="1250.7" y="3002.6" width="32" height="32"/>
<rect x="1277.6" y="3029.5" width="32" height="32"/>
<rect x="1304.6" y="3053.6" width="32" height="32"/>
<rect x="1331.6" y="3075.9" width="32" height="32"/>
<rect x="1358.5" y="3091.7" width="32" height="32"/>
<rect x="1385.5" y="3107.9" width="32" height="32"/>
<rect x="1412.5" y="3120.6" width="32" height="32"/>
<rect x="1439.5" y="3130.8" width="32" height="32"/>
<rect x="1466.4" y="3138.9" width="32" height="32"/>
<rect x="1493.4" y="3146.3" width="32" height="32"/>
<rect x="1520.4" y="3151.8" width="32" height="32"/>
<rect x="1547.3" y="3156.2" width="32" height="32"/>
<rect x="1574.3" y="3160" width="32" height="32"/>
<rect x="1601.3" y="3163" width="32" height="32"/>
<rect x="1628.2" y="3165.2" width="32" height="32"/>
<rect x="1655.2" y="3166.9" width="32" height="32"/>
<rect x="1682.2" y="3168.3" width="32" height="32"/>
<rect x="1709.2" y="3169.6" width="32" height="32"/>
<rect x="1736.1" y="3170.8" width="32" height="32"/>
<rect x="1763.1" y="3171.9" width="32" height="32"/>
<rect x="1790.1" y="3173" width="32" height="32"/>
<rect x="1817" y="3174" width="32" height="32"/>
<rect x="1844" y="3174.9" width="32" height="32"/>
<rect x="1871" y="3175.7" width="32" height="32"/>
<rect x="1897.9" y="3176.4" width="32" height="32"/>
<rect x="1924.9" y="3177" width="32" height="32"/>
<rect x="1951.9" y="3177.5" width="32" height="32"/>
<rect x="1978.9" y="3177.9" width="32" height="32"/>
<rect x="2005.8" y="3178.3" width="32" height="32"/>
<rect x="2032.8" y="3178.6" width="32" height="32"/>
</g>
<g fill="#ff0000">
<circle cx="430.6" cy="2488.9" r="18.4"/>
<circle cx="457.6" cy="2489.2" r="18.4"/>
<circle cx="484.5" cy="2489.5" r="18.4"/>
<circle cx="511.5" cy="2489.7" r="18.4"/>
<circle cx="538.5" cy="2489.9" r="18.4"/>
<circle cx="565.4" cy="2490.1" r="18.4"/>
<circle cx="592.4" cy="2490.3" r="18.4"/>
<circle cx="619.4" cy="2490.4" r="18.4"/>
<circle cx="646.4" cy="2490.6" r="18.4"/>
<circle cx="673.3" cy="2490.7" r="18.4"/>
<circle cx="700.3" cy="2490.9" r="18.4"/>
<circle cx="727.3" cy="2491" r="18.4"/>
<circle cx="754.2" cy="2491.1" r="18.4"/>
<circle cx="781.2" cy="2491.2" r="18.4"/>
<circle cx="808.2" cy="2491.4" r="18.4"/>
<circle cx="835.1" cy="2491.6" r="18.4"/>
<circle cx="862.1" cy="2493.1" r="18.4"/>
<circle cx="889.1" cy="2496.2" r="18.4"/>
<circle cx="916.1" cy="2500.2" r="18.4"/>
<circle cx="943" cy="2505.4" r="18.4"/>
<circle cx="970" cy="2512.7" r="18.4"/>
<circle cx="997" cy="2522.9" r="18.4"/>
<circle cx="1023.9" cy="2538" r="18.4"/>
<circle cx="1050.9" cy="2558.2" r="18.4"/>
<circle cx="1077.9" cy="2583.6" r="18.4"/>
<circle cx="1104.8" cy="2611.6" r="18.4"/>
<circle cx="1131.8" cy="2641.7" r="18.4"/>
<circle cx="1158.8" cy="2675.7" r="18.4"/>
<circle cx="1185.8" cy="2713" r="18.4"/>
<circle cx="1212.7" cy="2750.3" r="18.4"/>
<circle cx="1239.7" cy="2787" r="18.4"/>
<circle cx="1266.7" cy="2822.6" r="18.4"/>
<circle cx="1293.6" cy="2863.2" r="18.4"/>
<circle cx="1320.6" cy="2903.6" r="18.4"/>
<circle cx="1347.6" cy="2941.5" r="18.4"/>
<circle cx="1374.5" cy="2979.5" r="18.4"/>
<circle cx="1401.5" cy="3017.2" r="18.4"/>
<circle cx="1428.5" cy="3050.7" r="18.4"/>
<circle cx="1455.5" cy="3079.8" r="18.4"/>
<circle cx="1482.4" cy="3102.9" r="18.4"/>
<circle cx="1509.4" cy="3121.5" r="18.4"/>
<circle cx="1536.4" cy="3137.9" r="18.4"/>
<circle cx="1563.3" cy="3151.4" r="18.4"/>
<circle cx="1590.3" cy="3161.8" r="18.4"/>
<circle cx="1617.3" cy="3170" r="18.4"/>
<circle cx="1644.2" cy="3176.7" r="18.4"/>
<circle cx="1671.2" cy="3182.7" r="18.4"/>
<circle cx="1698.2" cy="3187.9" r="18.4"/>
<circle cx="1725.2" cy="3192.4" r="18.4"/>
<circle cx="1752.1" cy="3196.1" r="18.4"/>
<circle cx="1779.1" cy="3199.8" r="18.4"/>
<circle cx="1806.1" cy="3202.4" r="18.4"/>
<circle cx="1833" cy="3204.3" r="18.4"/>
<circle cx="1860" cy="3205.8" r="18.4"/>
<circle cx="1887" cy="3207.1" r="18.4"/>
<circle cx="1913.9" cy="3208" r="18.4"/>
<circle cx="1940.9" cy="3208.7" r="18.4"/>
<circle cx="1967.9" cy="3209.3" r="18.4"/>
<circle cx="1994.9" cy="3209.8" r="18.4"/>
<circle cx="2021.8" cy="3210.1" r="18.4"/>
<circle cx="2048.8" cy="3210.3" r="18.4"/>
</g>
<g fill="#0000ff">
<polygon points="430.6,2439.8 409.1,2477.2 452.1,2477.2"/>
<polygon points="457.6,2433.9 436.1,2471.3 479.1,2471.3"/>
<polygon points="484.5,2437.2 463,2474.6 506,2474.6"/>
<polygon points="511.5,2437.2 490,2474.6 533,2474.6"/>
<polygon points="538.5,2437.2 517,2474.6 560,2474.6"/>
<polygon points="565.4,2437.2 543.9,2474.6 586.9,2474.6"/>
<polygon points="592.4,2437.2 570.9,2474.6 613.9,2474.6"/>
<polygon points="619.4,2437.2 597.9,2474.6 640.9,2474.6"/>
<polygon points="646.4,2437.2 624.9,2474.6 667.9,2474.6"/>
<polygon points="673.3,2437.2 651.8,2474.6 694.8,2474.6"/>
<polygon points="700.3,2437.2 678.8,2474.6 721.8,2474.6"/>
<polygon points="727.3,2437.2 705.8,2474.6 748.8,2474.6"/>
<polygon points="754.2,2454 732.7,2491.4 775.7,2491.4"/>
<polygon points="781.2,2437.2 759.7,2474.6 802.7,2474.6"/>
<polygon points="808.2,2437.2 786.7,2474.6 829.7,2474.6"/>
<polygon points="835.1,2437.2 813.6,2474.6 856.6,2474.6"/>
<polygon points="862.1,2437.2 840.6,2474.6 883.6,2474.6"/>
<polygon points="889.1,2441.3 867.6,2478.7 910.6,2478.7"/>
<polygon points="916.1,2447.3 894.6,2484.7 937.6,2484.7"/>
<polygon points="943,2454.7 921.5,2492.1 964.5,2492.1"/>
<polygon points="970,2463.7 948.5,2501.1 991.5,2501.1"/>
<polygon points="997,2474.9 975.5,2512.3 1018.5,2512.3"/>
<polygon points="1023.9,2490.2 1002.4,2527.6 1045.4,2527.6"/>
<polygon points="1050.9,2507.7 1029.4,2545.1 1072.4,2545.1"/>
<polygon points="1077.9,2530.8 1056.4,2568.2 1099.4,2568.2"/>
<polygon points="1104.8,2561.3 1083.3,2598.7 1126.3,2598.7"/>
<polygon points="1131.8,2591.9 1110.3,2629.3 1153.3,2629.3"/>
<polygon points="1158.8,2628.4 1137.3,2665.8 1180.3,2665.8"/>
<polygon points="1185.8,2669.7 1164.3,2707.1 1207.3,2707.1"/>
<polygon points="1212.7,2711.4 1191.2,2748.8 1234.2,2748.8"/>
<polygon points="1239.7,2759.1 1218.2,2796.5 1261.2,2796.5"/>
<polygon points="1266.7,2802.5 1245.2,2839.9 1288.2,2839.9"/>
<polygon points="1293.6,2846.9 1272.1,2884.3 1315.1,2884.3"/>
<polygon points="1320.6,2889.7 1299.1,2927.1 1342.1,2927.1"/>
<polygon points="1347.6,2931.5 1326.1,2968.9 1369.1,2968.9"/>
<polygon points="1374.5,2965.4 1353,3002.8 1396,3002.8"/>
<polygon points="1401.5,2999.4 1380,3036.8 1423,3036.8"/>
<polygon points="1428.5,3029.7 1407,3067.1 1450,3067.1"/>
<polygon points="1455.5,3051.1 1434,3088.5 1477,3088.5"/>
<polygon points="1482.4,3074.3 1460.9,3111.7 1503.9,3111.7"/>
<polygon points="1509.4,3092.5 1487.9,3129.9 1530.9,3129.9"/>
<polygon points="1536.4,3106.3 1514.9,3143.7 1557.9,3143.7"/>
<polygon points="1563.3,3120.5 1541.8,3157.9 1584.8,3157.9"/>
<polygon points="1590.3,3131.7 1568.8,3169.1 1611.8,3169.1"/>
<polygon points="1617.3,3138 1595.8,3175.4 1638.8,3175.4"/>
<polygon points="1644.2,3143.6 1622.8,3181 1665.8,3181"/>
<polygon points="1671.2,3149.5 1649.7,3186.9 1692.7,3186.9"/>
<polygon points="1698.2,3157 1676.7,3194.4 1719.7,3194.4"/>
<polygon points="1725.2,3160.7 1703.7,3198.1 1746.7,3198.1"/>
<polygon points="1752.1,3165.2 1730.6,3202.6 1773.6,3202.6"/>
<polygon points="1779.1,3169.3 1757.6,3206.7 1800.6,3206.7"/>
<polygon points="1806.1,3172 1784.6,3209.4 1827.6,3209.4"/>
<polygon points="1833,3174.1 1811.5,3211.5 1854.5,3211.5"/>
<polygon points="1860,3175.9 1838.5,3213.3 1881.5,3213.3"/>
<polygon points="1887,3177.5 1865.5,3214.9 1908.5,3214.9"/>
<polygon points="1913.9,3178.6 1892.4,3216 1935.4,3216"/>
<polygon points="1940.9,3179.5 1919.4,3216.9 1962.4,3216.9"/>
<polygon points="1967.9,3180.3 1946.4,3217.7 1989.4,3217.7"/>
<polygon points="1994.9,3181 1973.4,3218.4 2016.4,3218.4"/>
<polygon points="2021.8,3181.4 2000.3,3218.8 2043.3,3218.8"/>
<polygon points="2048.8,3181.6 2027.3,3219 2070.3,3219"/>
</g>
<g fill="#008080">
<polygon points="430.6,2314.9 409.1,2277.5 452.1,2277.5"/>
<polygon points="457.6,2313.2 436.1,2275.8 479.1,2275.8"/>
<polygon points="484.5,2311.9 463,2274.5 506,2274.5"/>
<polygon points="511.5,2310.9 490,2273.5 533,2273.5"/>
<polygon points="538.5,2310.2 517,2272.8 560,2272.8"/>
<polygon points="565.4,2310 543.9,2272.6 586.9,2272.6"/>
<polygon points="592.4,2310.2 570.9,2272.8 613.9,2272.8"/>
<polygon points="619.4,2310.8 597.9,2273.4 640.9,2273.4"/>
<polygon points="646.4,2311.7 624.9,2274.3 667.9,2274.3"/>
<polygon points="673.3,2312.7 651.8,2275.3 694.8,2275.3"/>
<polygon points="700.3,2313.8 678.8,2276.4 721.8,2276.4"/>
<polygon points="727.3,2315 705.8,2277.6 748.8,2277.6"/>
<polygon points="754.2,2316.6 732.7,2279.2 775.7,2279.2"/>
<polygon points="781.2,2318.7 759.7,2281.3 802.7,2281.3"/>
<polygon points="808.2,2321.2 786.7,2283.8 829.7,2283.8"/>
<polygon points="835.1,2324.2 813.6,2286.8 856.6,2286.8"/>
<polygon points="862.1,2329 840.6,2291.6 883.6,2291.6"/>
<polygon points="889.1,2336.1 867.6,2298.7 910.6,2298.7"/>
<polygon points="916.1,2344.3 894.6,2306.9 937.6,2306.9"/>
<polygon points="943,2353.1 921.5,2315.7 964.5,2315.7"/>
<polygon points="970,2365.6 948.5,2328.2 991.5,2328.2"/>
<polygon points="997,2390.9 975.5,2353.5 1018.5,2353.5"/>
<polygon points="1023.9,2418.9 1002.4,2381.5 1045.4,2381.5"/>
<polygon points="1050.9,2446.5 1029.4,2409.1 1072.4,2409.1"/>
<polygon points="1077.9,2479.3 1056.4,2441.9 1099.4,2441.9"/>
<polygon points="1104.8,2519.9 1083.3,2482.5 1126.3,2482.5"/>
<polygon points="1131.8,2562 1110.3,2524.6 1153.3,2524.6"/>
<polygon points="1158.8,2606 1137.3,2568.6 1180.3,2568.6"/>
<polygon points="1185.8,2656.7 1164.3,2619.3 1207.3,2619.3"/>
<polygon points="1212.7,2704.8 1191.2,2667.4 1234.2,2667.4"/>
<polygon points="1239.7,2758.1 1218.2,2720.7 1261.2,2720.7"/>
<polygon points="1266.7,2808 1245.2,2770.6 1288.2,2770.6"/>
<polygon points="1293.6,2857.5 1272.1,2820.1 1315.1,2820.1"/>
<polygon points="1320.6,2907.3 1299.1,2869.9 1342.1,2869.9"/>
<polygon points="1347.6,2956.7 1326.1,2919.3 1369.1,2919.3"/>
<polygon points="1374.5,3001.1 1353,2963.7 1396,2963.7"/>
<polygon points="1401.5,3044 1380,3006.6 1423,3006.6"/>
<polygon points="1428.5,3083.9 1407,3046.5 1450,3046.5"/>
<polygon points="1455.5,3116.9 1434,3079.5 1477,3079.5"/>
<polygon points="1482.4,3149.8 1460.9,3112.4 1503.9,3112.4"/>
<polygon points="1509.4,3175 1487.9,3137.6 1530.9,3137.6"/>
<polygon points="1536.4,3200.4 1514.9,3163 1557.9,3163"/>
<polygon points="1563.3,3218.1 1541.8,3180.7 1584.8,3180.7"/>
<polygon points="1590.3,3235.2 1568.8,3197.8 1611.8,3197.8"/>
<polygon points="1617.3,3250.1 1595.8,3212.7 1638.8,3212.7"/>
<polygon points="1644.2,3262.8 1622.8,3225.4 1665.8,3225.4"/>
<polygon points="1671.2,3274 1649.7,3236.6 1692.7,3236.6"/>
<polygon points="1698.2,3284.4 1676.7,3247 1719.7,3247"/>
<polygon points="1725.2,3292.6 1703.7,3255.2 1746.7,3255.2"/>
<polygon points="1752.1,3300.1 1730.6,3262.7 1773.6,3262.7"/>
<polygon points="1779.1,3306.8 1757.6,3269.4 1800.6,3269.4"/>
<polygon points="1806.1,3311.8 1784.6,3274.4 1827.6,3274.4"/>
<polygon points="1833,3315.7 1811.5,3278.3 1854.5,3278.3"/>
<polygon points="1860,3318.9 1838.5,3281.5 1881.5,3281.5"/>
<polygon points="1887,3321.6 1865.5,3284.2 1908.5,3284.2"/>
<polygon points="1913.9,3323.2 1892.4,3285.8 1935.4,3285.8"/>
<polygon points="1940.9,3323.9 1919.4,3286.5 1962.4,3286.5"/>
<polygon points="1967.9,3324.5 1946.4,3287.1 1989.4,3287.1"/>
<polygon points="1994.9,3325 1973.4,3287.6 2016.4,3287.6"/>
<polygon points="2021.8,3325.3 2000.3,3287.9 2043.3,3287.9"/>
<polygon points="2048.8,3325.4 2027.3,3288 2070.3,3288"/>
</g>
<path d="M1048.2 2835.3 L1590.3 3232.6" stroke="#ff0000" stroke-width="11.8" stroke-linecap="round" fill="none"/>
<path d="M1050.9 2541.5 L1590.3 3208.8" stroke="#ff0000" stroke-width="11.8" stroke-linecap="round" fill="none"/>
<path d="M1050.9 2537.8 L1590.3 3231.1" stroke="#ff0000" stroke-width="11.8" stroke-linecap="round" fill="none"/>
<path d="M1050.9 2434.2 L1590.3 3283.7" stroke="#ff0000" stroke-width="11.8" stroke-linecap="round" fill="none"/>
<g fill="#ff00ff">
<polygon points="405.7,2228.4 443.1,2206.9 443.1,2249.9"/>
<polygon points="432.6,2226.4 470,2204.9 470,2247.9"/>
<polygon points="459.6,2224.5 497,2203 497,2246"/>
<polygon points="486.6,2223.1 524,2201.6 524,2244.6"/>
<polygon points="513.5,2222.1 550.9,2200.6 550.9,2243.6"/>
<polygon points="540.5,2221.7 577.9,2200.2 577.9,2243.2"/>
<polygon points="567.5,2221.8 604.9,2200.3 604.9,2243.3"/>
<polygon points="594.5,2222 631.9,2200.5 631.9,2243.5"/>
<polygon points="621.4,2222.3 658.8,2200.8 658.8,2243.8"/>
<polygon points="648.4,2222.7 685.8,2201.2 685.8,2244.2"/>
<polygon points="675.4,2223.2 712.8,2201.7 712.8,2244.7"/>
<polygon points="702.3,2224 739.7,2202.5 739.7,2245.5"/>
<polygon points="729.3,2225.3 766.7,2203.8 766.7,2246.8"/>
<polygon points="756.3,2227 793.7,2205.5 793.7,2248.5"/>
<polygon points="783.2,2229.2 820.6,2207.7 820.6,2250.7"/>
<polygon points="810.2,2231.8 847.6,2210.3 847.6,2253.3"/>
<polygon points="837.2,2236 874.6,2214.5 874.6,2257.5"/>
<polygon points="864.2,2242.2 901.6,2220.7 901.6,2263.7"/>
<polygon points="891.1,2249.3 928.5,2227.8 928.5,2270.8"/>
<polygon points="918.1,2257.4 955.5,2235.9 955.5,2278.9"/>
<polygon points="945.1,2267.2 982.5,2245.7 982.5,2288.7"/>
<polygon points="972,2278.7 1009.4,2257.2 1009.4,2300.2"/>
<polygon points="999,2292.6 1036.4,2271.1 1036.4,2314.1"/>
<polygon points="1026,2310.4 1063.4,2288.9 1063.4,2331.9"/>
<polygon points="1052.9,2332.8 1090.3,2311.3 1090.3,2354.3"/>
<polygon points="1079.9,2358.2 1117.3,2336.7 1117.3,2379.7"/>
<polygon points="1106.9,2388.7 1144.3,2367.2 1144.3,2410.2"/>
<polygon points="1133.9,2423.8 1171.3,2402.3 1171.3,2445.3"/>
<polygon points="1160.8,2462.5 1198.2,2441 1198.2,2484"/>
<polygon points="1187.8,2502.8 1225.2,2481.3 1225.2,2524.3"/>
<polygon points="1214.8,2543 1252.2,2521.5 1252.2,2564.5"/>
<polygon points="1241.7,2584 1279.1,2562.5 1279.1,2605.5"/>
<polygon points="1268.7,2625.3 1306.1,2603.8 1306.1,2646.8"/>
<polygon points="1295.7,2673.5 1333.1,2652 1333.1,2695"/>
<polygon points="1322.6,2724 1360,2702.5 1360,2745.5"/>
<polygon points="1349.6,2770 1387,2748.5 1387,2791.5"/>
<polygon points="1376.6,2818.9 1414,2797.4 1414,2840.4"/>
<polygon points="1403.6,2864.4 1441,2842.9 1441,2885.9"/>
<polygon points="1430.5,2906.1 1467.9,2884.6 1467.9,2927.6"/>
<polygon points="1457.5,2944.1 1494.9,2922.6 1494.9,2965.6"/>
<polygon points="1484.5,2981.4 1521.9,2959.9 1521.9,3002.9"/>
<polygon points="1511.4,3014.9 1548.8,2993.4 1548.8,3036.4"/>
<polygon points="1538.4,3045.5 1575.8,3024 1575.8,3067"/>
<polygon points="1565.4,3069.4 1602.8,3047.9 1602.8,3090.9"/>
<polygon points="1592.3,3091.7 1629.7,3070.2 1629.7,3113.2"/>
<polygon points="1619.3,3110.4 1656.7,3088.9 1656.7,3131.9"/>
<polygon points="1646.3,3129 1683.7,3107.5 1683.7,3150.5"/>
<polygon points="1673.3,3143.2 1710.7,3121.7 1710.7,3164.7"/>
<polygon points="1700.2,3155.8 1737.6,3134.3 1737.6,3177.3"/>
<polygon points="1727.2,3165.8 1764.6,3144.3 1764.6,3187.3"/>
<polygon points="1754.2,3176 1791.6,3154.5 1791.6,3197.5"/>
<polygon points="1781.1,3183 1818.5,3161.5 1818.5,3204.5"/>
<polygon points="1808.1,3189.7 1845.5,3168.2 1845.5,3211.2"/>
<polygon points="1835.1,3196.1 1872.5,3174.6 1872.5,3217.6"/>
<polygon points="1862,3200 1899.4,3178.5 1899.4,3221.5"/>
<polygon points="1889,3204.3 1926.4,3182.8 1926.4,3225.8"/>
<polygon points="1916,3207.3 1953.4,3185.8 1953.4,3228.8"/>
<polygon points="1943,3208.8 1980.4,3187.3 1980.4,3230.3"/>
<polygon points="1969.9,3211 2007.3,3189.5 2007.3,3232.5"/>
<polygon points="1996.9,3212.5 2034.3,3191 2034.3,3234"/>
<polygon points="2023.9,3213.2 2061.3,3191.7 2061.3,3234.7"/>
</g>
<path d="M1050.9 2261.2 L1590.3 3094.7" stroke="#000000" stroke-width="12.5" stroke-linecap="round" fill="none"/>
<g fill="#808000">
<polygon points="455.5,2144.9 418.1,2123.4 418.1,2166.4"/>
<polygon points="482.5,2142.2 445.1,2120.7 445.1,2163.7"/>
<polygon points="509.5,2140 472.1,2118.5 472.1,2161.5"/>
<polygon points="536.4,2138.3 499,2116.8 499,2159.8"/>
<polygon points="563.4,2137 526,2115.5 526,2158.5"/>
<polygon points="590.4,2136.3 553,2114.8 553,2157.8"/>
<polygon points="617.4,2136 580,2114.5 580,2157.5"/>
<polygon points="644.3,2136.4 606.9,2114.9 606.9,2157.9"/>
<polygon points="671.3,2137.3 633.9,2115.8 633.9,2158.8"/>
<polygon points="698.3,2138.5 660.9,2117 660.9,2160"/>
<polygon points="725.2,2139.7 687.8,2118.2 687.8,2161.2"/>
<polygon points="752.2,2141 714.8,2119.5 714.8,2162.5"/>
<polygon points="779.2,2142.3 741.8,2120.8 741.8,2163.8"/>
<polygon points="806.1,2143.9 768.7,2122.4 768.7,2165.4"/>
<polygon points="833.1,2145.9 795.7,2124.4 795.7,2167.4"/>
<polygon points="860.1,2148.3 822.7,2126.8 822.7,2169.8"/>
<polygon points="887.1,2152 849.7,2130.5 849.7,2173.5"/>
<polygon points="914,2157.3 876.6,2135.8 876.6,2178.8"/>
<polygon points="941,2163.6 903.6,2142.1 903.6,2185.1"/>
<polygon points="968,2171.5 930.6,2150 930.6,2193"/>
<polygon points="994.9,2181.5 957.5,2160 957.5,2203"/>
<polygon points="1021.9,2194.1 984.5,2172.6 984.5,2215.6"/>
<polygon points="1048.9,2211.3 1011.5,2189.8 1011.5,2232.8"/>
<polygon points="1075.8,2234.4 1038.4,2212.9 1038.4,2255.9"/>
<polygon points="1102.8,2262 1065.4,2240.5 1065.4,2283.5"/>
<polygon points="1129.8,2297.8 1092.4,2276.3 1092.4,2319.3"/>
<polygon points="1156.8,2335.8 1119.4,2314.3 1119.4,2357.3"/>
<polygon points="1183.7,2373.8 1146.3,2352.3 1146.3,2395.3"/>
<polygon points="1210.7,2422.3 1173.3,2400.8 1173.3,2443.8"/>
<polygon points="1237.7,2474.5 1200.3,2453 1200.3,2496"/>
<polygon points="1264.6,2525.1 1227.2,2503.6 1227.2,2546.6"/>
<polygon points="1291.6,2575.8 1254.2,2554.3 1254.2,2597.3"/>
<polygon points="1318.6,2626.5 1281.2,2605 1281.2,2648"/>
<polygon points="1345.5,2681 1308.1,2659.5 1308.1,2702.5"/>
<polygon points="1372.5,2737.8 1335.1,2716.3 1335.1,2759.3"/>
<polygon points="1399.5,2792.3 1362.1,2770.8 1362.1,2813.8"/>
<polygon points="1426.5,2842.9 1389.1,2821.4 1389.1,2864.4"/>
<polygon points="1453.4,2896 1416,2874.5 1416,2917.5"/>
<polygon points="1480.4,2944.1 1443,2922.6 1443,2965.6"/>
<polygon points="1507.4,2987 1470,2965.5 1470,3008.5"/>
<polygon points="1534.3,3028.1 1496.9,3006.6 1496.9,3049.6"/>
<polygon points="1561.3,3069.4 1523.9,3047.9 1523.9,3090.9"/>
<polygon points="1588.3,3099.9 1550.9,3078.4 1550.9,3121.4"/>
<polygon points="1615.2,3129 1577.8,3107.5 1577.8,3150.5"/>
<polygon points="1642.2,3159.6 1604.8,3138.1 1604.8,3181.1"/>
<polygon points="1669.2,3180.1 1631.8,3158.6 1631.8,3201.6"/>
<polygon points="1696.2,3200 1658.8,3178.5 1658.8,3221.5"/>
<polygon points="1723.1,3217.2 1685.7,3195.7 1685.7,3238.7"/>
<polygon points="1750.1,3233.7 1712.7,3212.2 1712.7,3255.2"/>
<polygon points="1777.1,3246 1739.7,3224.5 1739.7,3267.5"/>
<polygon points="1804,3256.5 1766.6,3235 1766.6,3278"/>
<polygon points="1831,3263.2 1793.6,3241.7 1793.6,3284.7"/>
<polygon points="1858,3268.6 1820.6,3247.1 1820.6,3290.1"/>
<polygon points="1884.9,3272.9 1847.5,3251.4 1847.5,3294.4"/>
<polygon points="1911.9,3275.9 1874.5,3254.4 1874.5,3297.4"/>
<polygon points="1938.9,3278.1 1901.5,3256.6 1901.5,3299.6"/>
<polygon points="1965.9,3280.3 1928.5,3258.8 1928.5,3301.8"/>
<polygon points="1992.8,3281.5 1955.4,3260 1955.4,3303"/>
<polygon points="2019.8,3282.6 1982.4,3261.1 1982.4,3304.1"/>
<polygon points="2046.8,3283.3 2009.4,3261.8 2009.4,3304.8"/>
<polygon points="2073.7,3284.1 2036.3,3262.6 2036.3,3305.6"/>
</g>
<path d="M1050.9 2205.3 L1590.3 3165.9" stroke="#ff0000" stroke-width="11.8" stroke-linecap="round" fill="none"/>
<rect x="1664.5" y="2028" width="758" height="676" fill="#fff" stroke="#000" stroke-width="2.8"/>
<g fill="#000000"><rect x="1761.2" y="2115.9" width="32.6" height="32.6"/></g>
<text transform="translate(1869.8 2154.7) scale(1 1.040)" font-size="64.4">0 ppm</text>
<g fill="#ff0000"><circle cx="1777.5" cy="2214.3" r="18.8"/></g>
<text transform="translate(1869.8 2236.8) scale(1 1.040)" font-size="64.4">20.8 ppm</text>
<g fill="#0000ff"><polygon points="1777.5,2271 1755.6,2309.1 1799.4,2309.1"/></g>
<text transform="translate(1869.8 2318.9) scale(1 1.040)" font-size="64.4">29.1 ppm</text><g transform="translate(1869.8 2318.9) scale(1 1.040)" fill="#fff"><rect x="92.09" y="-7.86" width="12.27" height="8.69"/><rect x="113.31" y="-7.86" width="11.62" height="8.69"/></g>
<g fill="#008080"><polygon points="1777.5,2403.9 1755.6,2365.8 1799.4,2365.8"/></g>
<text transform="translate(1869.8 2401) scale(1 1.040)" font-size="64.4">41.5 ppm</text><g transform="translate(1869.8 2401) scale(1 1.040)" fill="#fff"><rect x="38.38" y="-7.86" width="12.27" height="8.69"/><rect x="59.60" y="-7.86" width="11.62" height="8.69"/></g>
<g fill="#ff00ff"><polygon points="1752.1,2460.6 1790.2,2438.7 1790.2,2482.5"/></g>
<text transform="translate(1869.8 2483.1) scale(1 1.040)" font-size="64.4">62.1 ppm</text><g transform="translate(1869.8 2483.1) scale(1 1.040)" fill="#fff"><rect x="92.09" y="-7.86" width="12.27" height="8.69"/><rect x="113.31" y="-7.86" width="11.62" height="8.69"/></g>
<g fill="#808000"><polygon points="1802.9,2542.7 1764.8,2520.8 1764.8,2564.6"/></g>
<text transform="translate(1869.8 2565.2) scale(1 1.040)" font-size="64.4">82.6 ppm</text>
<path d="M1703 2624.8 H1853" stroke="#ff0000" stroke-width="15" stroke-linecap="round" fill="none"/>
<text transform="translate(1868 2647.3) scale(1 1.040)" font-size="65">Linear fit to log Z</text>
</g>
</svg></body></html>
